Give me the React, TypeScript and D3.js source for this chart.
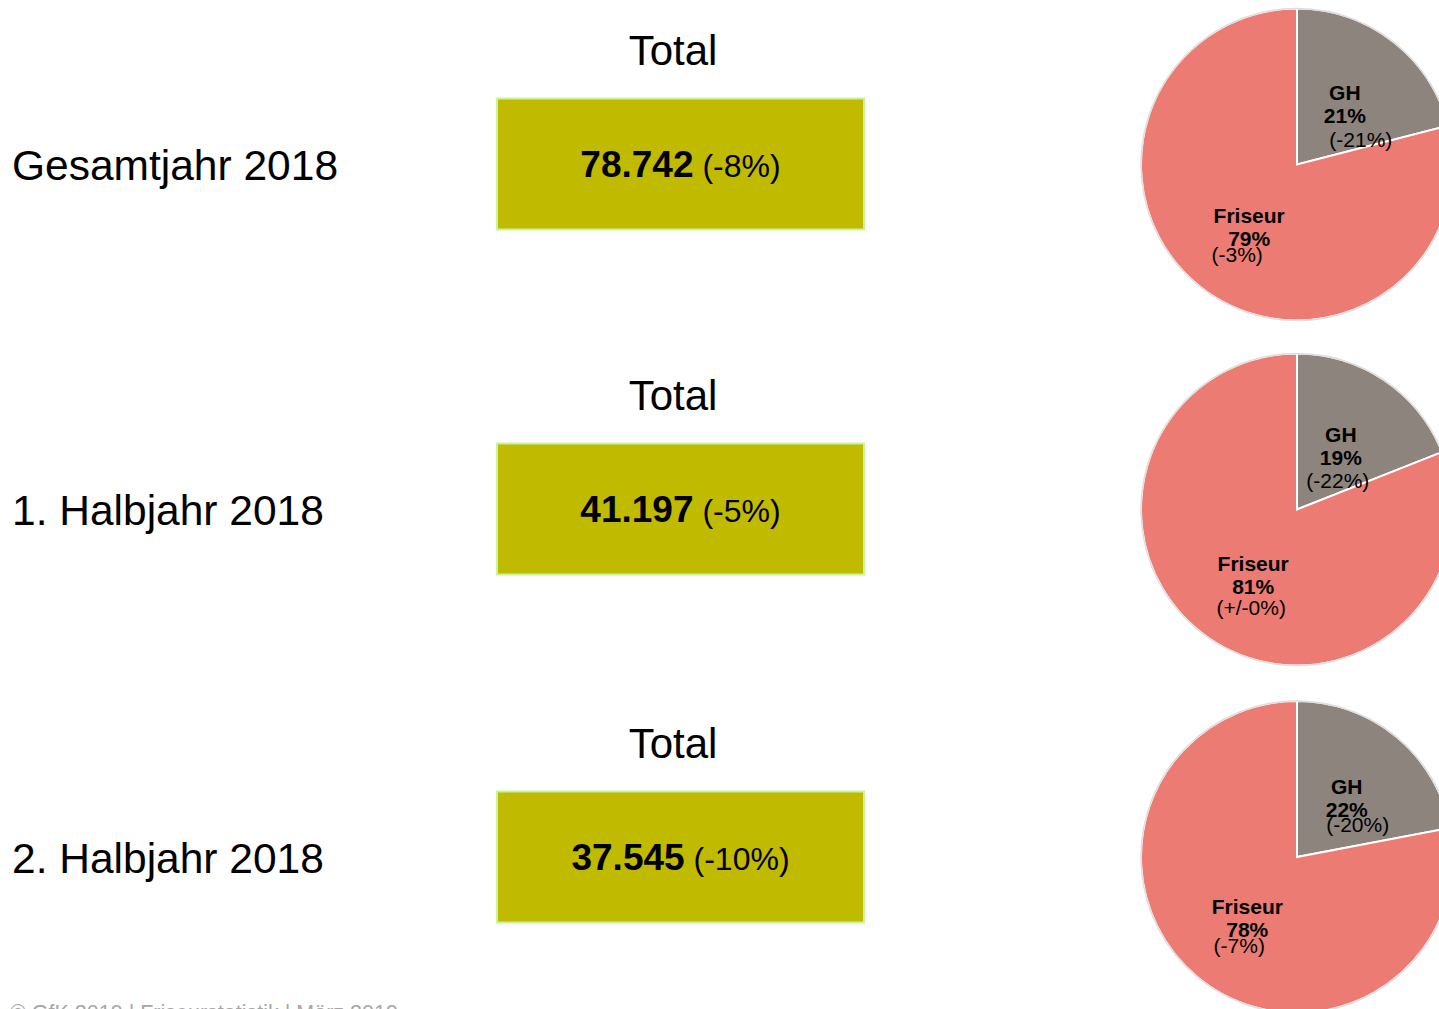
import React from "react";
import * as d3 from "d3";

const periods = ["Gesamtjahr 2018", "1. Halbjahr 2018", "2. Halbjahr 2018"];
const totals = ["78.742", "41.197", "37.545"];
const totalChanges = ["(-8%)", "(-5%)", "(-10%)"];
const segments = ["GH", "Friseur"];
const ghShare = [21, 19, 22];
const friseurShare = [79, 81, 78];
const ghChange = ["(-21%)", "(-22%)", "(-20%)"];
const friseurChange = ["(-3%)", "(+/-0%)", "(-7%)"];
const footer = "© GfK 2019 | Friseurstatistik | März 2019";

// layout (text nudges for the change line, relative to label anchor)
const changeNudge = [
  [[16, 44], [-12, 36]],
  [[-3, 43], [-2, 41]],
  [[11, 35], [-8, 36]],
];

const W = 1439;
const H = 1009;
const FONT = "'Liberation Sans', Arial, sans-serif";
const colors = { GH: "#8d847e", Friseur: "#ec7b73" };

const pieCx = 1297;
const pieCy = [164.5, 509.5, 857];
const R = 156;

export default function App() {
  const pie = d3.pie<number>().sort(null).value((d) => d);
  const arc = d3.arc<d3.PieArcDatum<number>>().innerRadius(0).outerRadius(R);
  const labelArc = d3.arc<d3.PieArcDatum<number>>().innerRadius(78).outerRadius(78);

  return (
    <svg
      width={W}
      height={H}
      style={{ position: "absolute", left: 0, top: 0, background: "#fff" }}
      fontFamily={FONT}
    >
      {periods.map((p, i) => {
        const oy = [0, 345, 693][i];
        const boxTop = [98.5, 443.5, 791.5][i];
        const values = [ghShare[i], friseurShare[i]];
        const arcs = pie(values);
        const changes = [ghChange[i], friseurChange[i]];
        return (
          <g key={p}>
            <text x={12} y={180 + oy} fontSize={42.5} fill="#000">
              {p}
            </text>
            <text x={673} y={65 + oy} fontSize={42} textAnchor="middle" fill="#000">
              Total
            </text>
            <rect
              x={497}
              y={boxTop}
              width={367}
              height={131}
              fill="#c0ba00"
              stroke="#c8f59a"
              strokeWidth={2}
            />
            <text x={680.5} y={boxTop + 78.5} textAnchor="middle" fill="#000">
              <tspan fontSize={37} fontWeight="bold">
                {totals[i]}
              </tspan>
              <tspan fontSize={32}>{" " + totalChanges[i]}</tspan>
            </text>
            <g transform={`translate(${pieCx},${pieCy[i]})`}>
              {arcs.map((a, j) => (
                <path
                  key={j}
                  d={arc(a) || ""}
                  fill={colors[segments[j] as "GH" | "Friseur"]}
                  stroke="#fff"
                  strokeWidth={2}
                />
              ))}
              <circle r={R} fill="none" stroke="#dedede" strokeWidth={1.5} />
              {arcs.map((a, j) => {
                const [lx, ly] = labelArc.centroid(a);
                const [nx, ny] = changeNudge[i][j];
                return (
                  <g key={"l" + j} fill="#000" textAnchor="middle">
                    <text x={lx} y={ly - 3} fontSize={21} fontWeight="bold">
                      {segments[j]}
                    </text>
                    <text x={lx} y={ly + 20} fontSize={21} fontWeight="bold">
                      {values[j] + "%"}
                    </text>
                    <text x={lx + nx} y={ly + ny} fontSize={21}>
                      {changes[j]}
                    </text>
                  </g>
                );
              })}
            </g>
          </g>
        );
      })}
      <text x={10} y={1019.5} fontSize={21.5} fill="#a6a6a6">
        {footer}
      </text>
    </svg>
  );
}
